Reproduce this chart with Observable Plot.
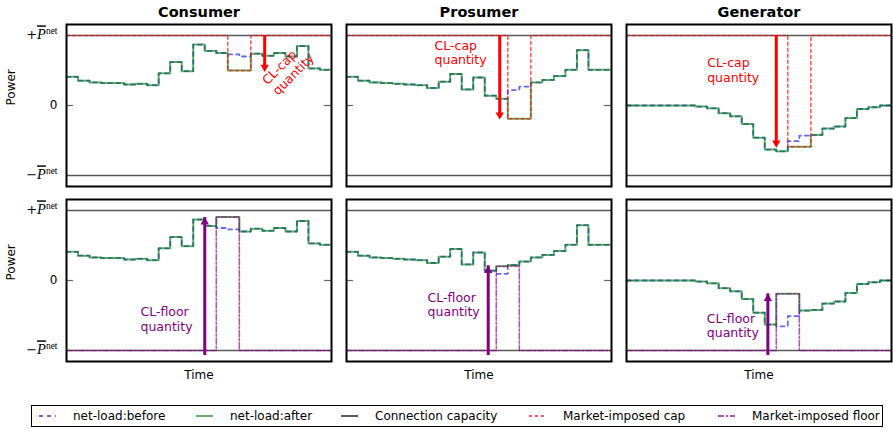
<!DOCTYPE html>
<html><head><meta charset="utf-8">
<script src="https://cdn.jsdelivr.net/npm/d3@7"></script>
<script src="https://cdn.jsdelivr.net/npm/@observablehq/plot@0.6"></script>
<style>
body{margin:0;background:#fff;font-family:"DejaVu Sans",sans-serif;}
#chart svg{display:block}
#legend{position:absolute;left:31px;top:405px;width:850px;height:20px;border:1.5px solid #000;font-size:12px;font-family:"DejaVu Sans",sans-serif;}
.item{position:absolute;top:0;height:20px;display:flex;align-items:center;white-space:nowrap}
.item svg{margin-right:17px}
</style></head><body>
<div id="chart"></div><div id="legend"></div>
<script>
// ---- data ----
const panelTypes = ["Consumer", "Prosumer", "Generator"];
const limitRows = ["cap", "floor"];
const timeSteps = d3.range(24);
const consumerBefore = [0.41,0.355,0.33,0.32,0.32,0.30,0.31,0.29,0.46,0.62,0.49,0.87,0.78,0.75,0.73,0.70,0.74,0.71,0.75,0.70,0.85,0.53,0.51,0.51];
const prosumerBefore = [0.41,0.355,0.33,0.32,0.31,0.30,0.29,0.25,0.34,0.45,0.23,0.40,0.14,0.095,0.22,0.27,0.33,0.365,0.42,0.51,0.79,0.51,0.51,0.51];
const generatorBefore = [0,0,0,0,0,0,-0.015,-0.04,-0.11,-0.155,-0.265,-0.46,-0.63,-0.655,-0.51,-0.43,-0.42,-0.33,-0.30,-0.18,-0.05,-0.025,0,0];
const capValues = [0.5, -0.19, -0.59];
const floorValues = [0.907, 0.204, -0.19];
const capWindow = [14, 16];
const floorWindow = [13, 15];
const capacityLevels = [1, -1];
const capArrowX = [17.2, 13.3, 13.0];
const capArrowTip = [0.48, -0.2, -0.6];
const floorArrowX = [12.0, 12.3, 12.27];
const floorArrowTip = [0.9, 0.21, -0.19];
const capTextX = [17.6, 7.64, 7.0];
const capTextY = [0.26, 0.76, 0.506];
const capTextRotate = [-45, 0, 0];
const floorTextX = [6.42, 7.04, 6.97];
const floorTextY = [-0.543, -0.34, -0.64];
const yTickValues = [1, 0, -1];
const yTickLabels = ["+P", "0", "\u2212P"];
const legendLabels = ["net-load:before", "net-load:after", "Connection capacity", "Market-imposed cap", "Market-imposed floor"];

// ---- tables ----
const profiles = [consumerBefore, prosumerBefore, generatorBefore];
const series = [];
panelTypes.forEach((type, k) => {
  timeSteps.forEach(t => {
    const before = profiles[k][t];
    const inCap = t >= capWindow[0] && t < capWindow[1];
    const inFloor = t >= floorWindow[0] && t < floorWindow[1];
    series.push({type, row: "cap", t, before, after: inCap ? Math.min(before, capValues[k]) : before, limit: inCap ? capValues[k] : 1});
    series.push({type, row: "floor", t, before, after: inFloor ? Math.max(before, floorValues[k]) : before, limit: inFloor ? floorValues[k] : -1});
  });
});
const capArrows = panelTypes.map((type, k) => ({type, row: "cap", x: capArrowX[k], tip: capArrowTip[k]}));
const floorArrows = panelTypes.map((type, k) => ({type, row: "floor", x: floorArrowX[k], tip: floorArrowTip[k]}));
const capTexts = panelTypes.map((type, k) => ({type, row: "cap", x: capTextX[k], y: capTextY[k], r: capTextRotate[k]}));
const floorTexts = panelTypes.map((type, k) => ({type, row: "floor", x: floorTextX[k], y: floorTextY[k]}));
const tickRows = limitRows.flatMap(row => yTickValues.map((v, i) => ({type: "Consumer", row, v, label: yTickLabels[i]})));
const titleRows = panelTypes.map(type => ({type, row: "cap"}));
const timeRows = panelTypes.map(type => ({type, row: "floor"}));
const powerRows = limitRows.map(row => ({type: "Consumer", row}));

const GREEN = "#008000", BLUE = "#0000ff", RED = "#ff0000", PURPLE = "#800080";

const chart = Plot.plot({
  width: 893, height: 395,
  marginLeft: 66, marginRight: 1, marginTop: 24, marginBottom: 33,
  style: {fontFamily: "DejaVu Sans", fontSize: "12px", background: "white", overflow: "visible"},
  x: {domain: [0, 23], axis: null},
  y: {domain: [-1.157, 1.157], axis: null},
  fx: {domain: panelTypes, paddingInner: 0.0535, paddingOuter: 0, axis: null},
  fy: {domain: limitRows, paddingInner: 0.0741, paddingOuter: 0, axis: null},
  marks: [
    Plot.ruleY(capacityLevels, {stroke: "#000", strokeOpacity: 0.65, strokeWidth: 1.5}),
    Plot.tickY([0], {stroke: "#000", strokeOpacity: 0.6, strokeWidth: 1.2, insetRight: 258}),
    Plot.tickY([0], {stroke: "#000", strokeOpacity: 0.6, strokeWidth: 1.2, insetLeft: 258}),
    Plot.line(series, {fx: "type", fy: "row", x: "t", y: "before", z: null, curve: "step-after", stroke: BLUE, strokeOpacity: 0.6, strokeWidth: 1.8, strokeDasharray: "4,4"}),
    Plot.line(series, {fx: "type", fy: "row", x: "t", y: "after", z: null, curve: "step-after", stroke: GREEN, strokeOpacity: 0.6, strokeWidth: 2}),
    Plot.line(series.filter(d => d.row === "cap"), {fx: "type", fy: "row", x: "t", y: "limit", curve: "step-after", stroke: RED, strokeOpacity: 0.65, strokeWidth: 1.6, strokeDasharray: "3,3"}),
    Plot.line(series.filter(d => d.row === "floor"), {fx: "type", fy: "row", x: "t", y: "limit", curve: "step-after", stroke: PURPLE, strokeOpacity: 0.65, strokeWidth: 1.6, strokeDasharray: "6,2,2,2"}),
    Plot.ruleX(capArrows, {fx: "type", fy: "row", x: "x", y1: () => 1, y2: "tip", stroke: RED, strokeWidth: 3, insetBottom: 5}),
    Plot.dot(capArrows, {fx: "type", fy: "row", x: "x", y: "tip", symbol: "triangle", r: 3.1, rotate: 180, dy: -4.7, fill: RED, stroke: "none"}),
    Plot.ruleX(floorArrows, {fx: "type", fy: "row", x: "x", y1: () => -1, y2: "tip", stroke: PURPLE, strokeWidth: 3, insetTop: 5}),
    Plot.dot(floorArrows, {fx: "type", fy: "row", x: "x", y: "tip", symbol: "triangle", r: 3.1, dy: 4.7, fill: PURPLE, stroke: "none"}),
    Plot.text(capTexts, {fx: "type", fy: "row", x: "x", y: "y", rotate: "r", text: () => "CL-cap\nquantity", textAnchor: "start", lineAnchor: "middle", lineHeight: 1.18, fontSize: 12.5, fill: RED}),
    Plot.text(floorTexts, {fx: "type", fy: "row", x: "x", y: "y", text: () => "CL-floor\nquantity", textAnchor: "start", lineAnchor: "middle", lineHeight: 1.18, fontSize: 12.5, fill: PURPLE}),
    Plot.frame({stroke: "#000", strokeWidth: 2}),
    Plot.text(titleRows, {fx: "type", fy: "row", frameAnchor: "top", dy: -12.5, text: "type", fontWeight: "bold", fontSize: 14.5, lineAnchor: "middle", fill: "#000"}),
    Plot.text(timeRows, {fx: "type", fy: "row", frameAnchor: "bottom", dy: 14, text: () => "Time", fontSize: 12, lineAnchor: "middle", fill: "#000"}),
    Plot.text(powerRows, {fx: "type", fy: "row", frameAnchor: "left", dx: -55.5, rotate: -90, text: () => "Power", fontSize: 12, lineAnchor: "middle", fill: "#000"}),
    Plot.text(tickRows, {fx: "type", fy: "row", y: "v", frameAnchor: "left", dx: -9, text: "label", textAnchor: "end", lineAnchor: "middle", fontSize: 12, fill: "#000"})
  ]
});
document.getElementById("chart").appendChild(chart);

// math-style tick labels: ±P̄^net
d3.select(chart).selectAll("text").each(function() {
  const s = this.textContent;
  if (s !== "+P" && s !== "\u2212P") return;
  const sel = d3.select(this);
  sel.selectAll("*").remove();
  sel.text(null);
  sel.append("tspan").attr("font-family", "DejaVu Serif").attr("font-size", 13).text(s[0]);
  sel.append("tspan").attr("font-family", "Liberation Serif").attr("font-style", "italic").attr("font-size", 14.5).attr("text-decoration", "overline").text("P");
  sel.append("tspan").attr("font-family", "Liberation Serif").attr("font-size", 9.5).attr("dy", "-0.55em").text("net");
});

// legend
const legendStyles = [
  {stroke: BLUE, opacity: 0.6, dash: "4,4"},
  {stroke: GREEN, opacity: 0.6, dash: null},
  {stroke: "#000", opacity: 0.65, dash: null},
  {stroke: RED, opacity: 0.65, dash: "3,3"},
  {stroke: PURPLE, opacity: 0.65, dash: "6,2,2,2"}
];
const legendLeft = [7, 164, 309, 497, 686];
const legend = d3.select("#legend");
legendLabels.forEach((label, i) => {
  const item = legend.append("div").attr("class", "item").style("left", legendLeft[i] + "px");
  const svg = item.append("svg").attr("width", 17).attr("height", 10);
  const st = legendStyles[i];
  svg.append("line").attr("x1", 0).attr("x2", 17).attr("y1", 5).attr("y2", 5)
    .attr("stroke", st.stroke).attr("stroke-opacity", st.opacity).attr("stroke-width", 2)
    .attr("stroke-dasharray", st.dash);
  item.append("span").text(label);
});
</script>
</body></html>
